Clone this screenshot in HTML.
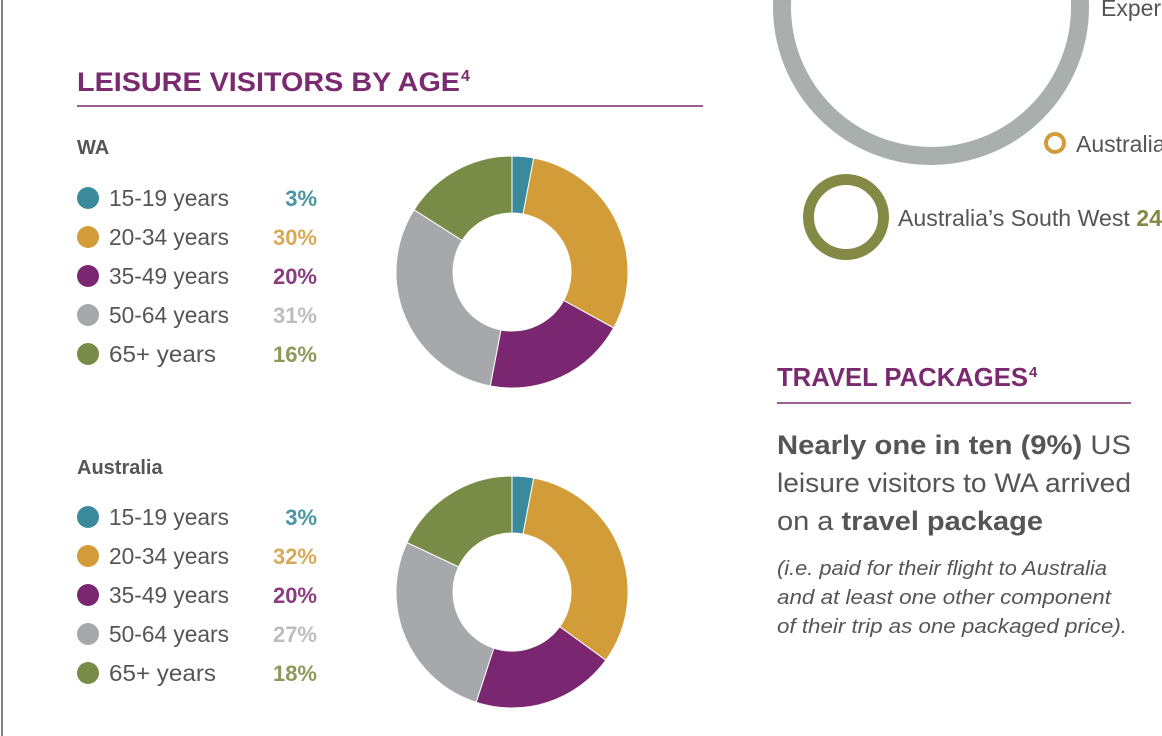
<!DOCTYPE html>
<html><head><meta charset="utf-8"><style>
html,body{margin:0;padding:0;background:#fff;width:1162px;height:736px;overflow:hidden}
svg{display:block;font-family:"Liberation Sans",Arial,sans-serif}
</style></head><body>
<svg id="s" width="1162" height="736" viewBox="0 0 1162 736">
<rect x="0" y="0" width="1162" height="736" fill="#fff"/>
<line x1="2" y1="0" x2="2" y2="736" stroke="#555" stroke-width="1.5"/>
<circle cx="931" cy="7" r="149" fill="none" stroke="#a9afad" stroke-width="18"/>
<text x="1101" y="16" font-size="23" fill="#555">Exper</text>
<circle cx="1055" cy="143" r="9" fill="none" stroke="#d29c38" stroke-width="4"/>
<text x="1076" y="152" font-size="23" fill="#555">Australia</text>
<circle cx="846" cy="217" r="37.5" fill="none" stroke="#848945" stroke-width="11"/>
<text x="898" y="226" font-size="23" fill="#555" textLength="264" lengthAdjust="spacingAndGlyphs">Australia’s South West <tspan font-weight="bold" fill="#848945">24</tspan></text>
<text x="77" y="91" font-size="27" font-weight="bold" fill="#7a2a6f" textLength="383" lengthAdjust="spacingAndGlyphs">LEISURE VISITORS BY AGE</text>
<text x="461" y="81" font-size="16" font-weight="bold" fill="#7a2a6f">4</text>
<line x1="77" y1="106" x2="703" y2="106" stroke="#7a2a6f" stroke-width="1.5"/>
<text x="77" y="154" font-size="20" font-weight="bold" fill="#555">WA</text>
<text x="77" y="474" font-size="20" font-weight="bold" fill="#555">Australia</text>
<g id="leg"></g>
<g id="pies"></g>
<text x="777" y="386" font-size="26" font-weight="bold" fill="#7a2a6f" textLength="251" lengthAdjust="spacingAndGlyphs">TRAVEL PACKAGES</text>
<text x="1029" y="377" font-size="15" font-weight="bold" fill="#7a2a6f">4</text>
<line x1="777" y1="403" x2="1131" y2="403" stroke="#7a2a6f" stroke-width="1.5"/>
<g font-size="27" fill="#555">
<text x="777" y="454" textLength="354" lengthAdjust="spacingAndGlyphs"><tspan font-weight="bold">Nearly one in ten (9%)</tspan> US</text>
<text x="777" y="492" textLength="354" lengthAdjust="spacingAndGlyphs">leisure visitors to WA arrived</text>
<text x="777" y="530" textLength="266" lengthAdjust="spacingAndGlyphs">on a <tspan font-weight="bold">travel package</tspan></text>
</g>
<g font-size="20.5" fill="#555" font-style="italic">
<text x="777" y="575" textLength="330" lengthAdjust="spacingAndGlyphs">(i.e. paid for their flight to Australia</text>
<text x="777" y="604" textLength="334" lengthAdjust="spacingAndGlyphs">and at least one other component</text>
<text x="777" y="633" textLength="350" lengthAdjust="spacingAndGlyphs">of their trip as one packaged price).</text>
</g>
</svg>
<script>
var NS="http://www.w3.org/2000/svg";
var cols=["#3a8a9c","#d29c38","#7a2670","#a7a8ab","#788c48"];
var pcol=["#4a94a6","#d8aa55","#8a3c80","#bdbdbf","#8a9a5a"];
var labels=["15-19 years","20-34 years","35-49 years","50-64 years","65+ years"];
var lw=[120,120,120,120,107];
function el(t,a,txt){var e=document.createElementNS(NS,t);for(var k in a)e.setAttribute(k,a[k]);if(txt)e.textContent=txt;return e;}
var leg=document.getElementById("leg"),pies=document.getElementById("pies");
function block(y0,vals,cy){
 for(var i=0;i<5;i++){var y=y0+i*39;
  leg.appendChild(el("circle",{cx:88,cy:y,r:11,fill:cols[i]}));
  leg.appendChild(el("text",{x:109,y:y+8,"font-size":23,fill:"#555",textLength:lw[i],lengthAdjust:"spacingAndGlyphs"},labels[i]));
  leg.appendChild(el("text",{x:317,y:y+8,"font-size":22,"font-weight":"bold",fill:pcol[i],"text-anchor":"end"},vals[i]+"%"));
 }
 var cx=512,R=116,r=59,tot=0;vals.forEach(function(v){tot+=v});
 var a=0;
 for(var i=0;i<5;i++){var a0=a/tot*2*Math.PI,a1=(a+vals[i])/tot*2*Math.PI;a+=vals[i];
  function p(rr,an){return (cx+rr*Math.sin(an)).toFixed(2)+","+(cy-rr*Math.cos(an)).toFixed(2);}
  var lg=(a1-a0)>Math.PI?1:0;
  var d="M"+p(R,a0)+" A"+R+","+R+" 0 "+lg+" 1 "+p(R,a1)+" L"+p(r,a1)+" A"+r+","+r+" 0 "+lg+" 0 "+p(r,a0)+"Z";
  pies.appendChild(el("path",{d:d,fill:cols[i],stroke:"#fff","stroke-width":1}));
 }
}
block(198,[3,30,20,31,16],272);
block(517,[3,32,20,27,18],592);
</script>
</body></html>
